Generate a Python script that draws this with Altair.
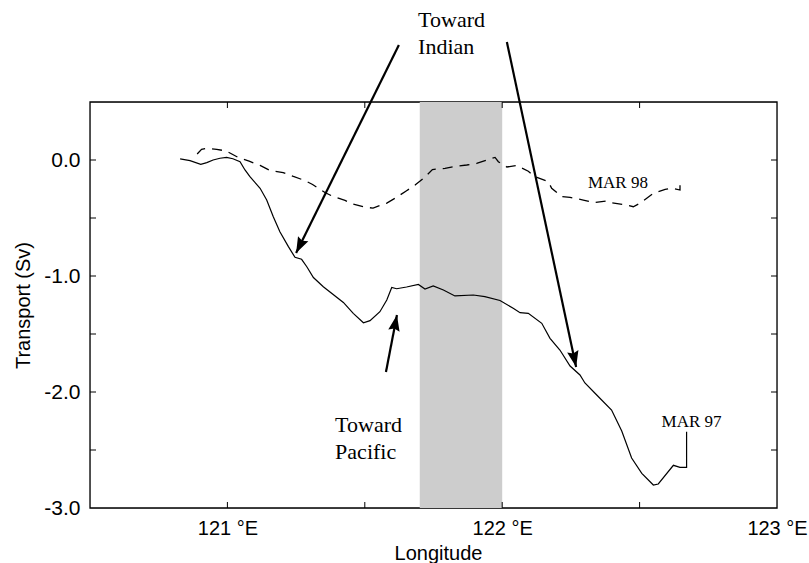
import altair as alt
import numpy as np
import pandas as pd

# Section transport, MAR 97 (solid line)
lon_97 = [120.828, 120.864, 120.903, 120.925, 120.948, 120.973, 120.997, 121.020,
          121.046, 121.064, 121.082, 121.119, 121.143, 121.167, 121.191, 121.222,
          121.246, 121.270, 121.289, 121.313, 121.349, 121.422, 121.458, 121.495,
          121.519, 121.555, 121.580, 121.598, 121.616, 121.652, 121.695, 121.719,
          121.749, 121.786, 121.828, 121.895, 121.937, 121.992, 122.040, 122.065,
          122.095, 122.144, 122.174, 122.210, 122.247, 122.283, 122.301, 122.344,
          122.398, 122.435, 122.471, 122.508, 122.550, 122.568, 122.623, 122.647,
          122.671, 122.671]
sv_97 = [0.009, -0.006, -0.037, -0.023, 0.000, 0.015, 0.023, 0.011,
         -0.015, -0.086, -0.144, -0.244, -0.345, -0.489, -0.618, -0.747,
         -0.839, -0.856, -0.920, -1.013, -1.092, -1.228, -1.322, -1.403,
         -1.385, -1.308, -1.207, -1.099, -1.110, -1.095, -1.073, -1.112,
         -1.086, -1.121, -1.172, -1.164, -1.178, -1.211, -1.278, -1.316,
         -1.322, -1.408, -1.537, -1.638, -1.776, -1.853, -1.922, -2.026,
         -2.155, -2.336, -2.569, -2.701, -2.802, -2.793, -2.632, -2.649,
         -2.649, -2.342]

# Section transport, MAR 98 (dashed line)
lon_98 = [120.890, 120.906, 120.925, 120.961, 120.995, 121.042, 121.079, 121.119,
          121.155, 121.203, 121.240, 121.282, 121.310, 121.355, 121.385, 121.428,
          121.455, 121.504, 121.530, 121.580, 121.610, 121.652, 121.683, 121.719,
          121.746, 121.792, 121.828, 121.871, 121.907, 121.944, 121.974, 121.986,
          122.017, 122.053, 122.095, 122.119, 122.168, 122.180, 122.217, 122.247,
          122.295, 122.332, 122.380, 122.398, 122.453, 122.477, 122.501, 122.526,
          122.550, 122.593, 122.618, 122.647, 122.647]
sv_98 = [0.052, 0.092, 0.101, 0.092, 0.078, 0.019, -0.010, -0.047,
         -0.090, -0.108, -0.142, -0.177, -0.211, -0.280, -0.315, -0.348,
         -0.379, -0.409, -0.414, -0.371, -0.330, -0.265, -0.216, -0.147,
         -0.082, -0.072, -0.056, -0.043, -0.030, 0.000, 0.022, -0.015,
         -0.060, -0.047, -0.097, -0.144, -0.187, -0.244, -0.316, -0.322,
         -0.345, -0.368, -0.353, -0.368, -0.388, -0.403, -0.373, -0.330,
         -0.287, -0.253, -0.244, -0.259, -0.190]

# Shaded longitude band
band_lon = [121.7, 122.0]

# Axis ticks and labels
x_ticks = [121.0, 121.5, 122.0, 122.5]
y_ticks = [-2.5, -2.0, -1.5, -1.0, -0.5, 0.0]
x_labels = [121, 122, 123]
y_labels = [-3.0, -2.0, -1.0, 0.0]

# Annotation arrows (tail -> tip)
arrow_tail_lon = [121.624, 122.017, 121.577]
arrow_tail_sv = [0.991, 1.017, -1.828]
arrow_tip_lon = [121.250, 122.269, 121.617]
arrow_tip_sv = [-0.802, -1.784, -1.336]

# Annotation texts
note_text = ["Toward\nIndian", "Toward\nPacific"]
note_lon = [121.694, 121.392]
note_sv = [1.149, -2.345]

series_text = ["MAR 98", "MAR 97"]
series_lon = [122.312, 122.580]
series_sv = [-0.241, -2.302]

W, H = 687, 406
X_DOM = [120.5, 123.0]
Y_DOM = [-3.0, 0.5]
kx = W / (X_DOM[1] - X_DOM[0])
ky = H / (Y_DOM[1] - Y_DOM[0])

SANS = "Liberation Sans"
SERIF = "Liberation Serif"

xscale = alt.Scale(domain=X_DOM, nice=False, zero=False)
yscale = alt.Scale(domain=Y_DOM, nice=False, zero=False)

xaxis = alt.Axis(values=x_labels, labelExpr="format(datum.value, 'd') + ' °E'",
                 ticks=False, domain=False, grid=False, labelFont=SANS, labelFontSize=20,
                 labelColor="black", labelPadding=10, labelFlush=False,
                 title="Longitude", titleFont=SANS, titleFontSize=20, titleFontWeight="normal",
                 titleColor="black", titleBaseline="alphabetic", titleAlign="center",
                 titleX=348, titleY=51)
yaxis = alt.Axis(values=y_labels,
                 labelExpr="(datum.value < 0 ? '-' : '') + format(abs(datum.value), '.1f')",
                 ticks=False, domain=False, grid=False, labelFont=SANS, labelFontSize=21,
                 labelColor="black", labelPadding=10,
                 title="Transport (Sv)", titleFont=SANS, titleFontSize=20,
                 titleFontWeight="normal", titleColor="black", titlePadding=10)

X = alt.X("lon:Q", scale=xscale, axis=xaxis)
Y = alt.Y("sv:Q", scale=yscale, axis=yaxis)

df97 = pd.DataFrame({"lon": lon_97, "sv": sv_97, "i": range(len(lon_97))})
df98 = pd.DataFrame({"lon": lon_98, "sv": sv_98, "i": range(len(lon_98))})

# Plot frame, drawn beneath the shaded band
frame = alt.Chart(pd.DataFrame({"k": [0]})).mark_rect(
    fillOpacity=0, stroke="black", strokeWidth=1.3).encode(
    x=alt.value(0), x2=alt.value(W), y=alt.value(0), y2=alt.value(H))

band = alt.Chart(pd.DataFrame({"lon": [band_lon[0]], "lon2": [band_lon[1]]})).mark_rect(
    color="#cdcdcd").encode(x=X, x2="lon2:Q", y=alt.value(0), y2=alt.value(H))

line98 = alt.Chart(df98).mark_line(color="black", strokeWidth=1.3, strokeDash=[10, 7]).encode(
    x=X, y=Y, order="i:Q")
line97 = alt.Chart(df97).mark_line(color="black", strokeWidth=1.2).encode(
    x=X, y=Y, order="i:Q")

# Inward-facing frame ticks
xt = pd.DataFrame({"lon": x_ticks})
yt = pd.DataFrame({"sv": y_ticks})
tick_style = dict(color="black", strokeWidth=1)
ticks = [
    alt.Chart(xt).mark_rule(**tick_style).encode(x=X, y=alt.value(0), y2=alt.value(6)),
    alt.Chart(xt).mark_rule(**tick_style).encode(x=X, y=alt.value(H - 6), y2=alt.value(H)),
    alt.Chart(yt).mark_rule(**tick_style).encode(y=Y, x=alt.value(0), x2=alt.value(6)),
    alt.Chart(yt).mark_rule(**tick_style).encode(y=Y, x=alt.value(W - 6), x2=alt.value(W)),
]

# Arrows
arr = pd.DataFrame({"lon": arrow_tail_lon, "sv": arrow_tail_sv,
                    "lon2": arrow_tip_lon, "sv2": arrow_tip_sv})
dx = (arr["lon2"] - arr["lon"]) * kx
dy = -(arr["sv2"] - arr["sv"]) * ky
arr["angle"] = (np.degrees(np.arctan2(dx, -dy)) + 360) % 360
arrow_lines = alt.Chart(arr).mark_rule(color="black", strokeWidth=2.2).encode(
    x=X, y=Y, x2="lon2:Q", y2="sv2:Q")
head_df = pd.DataFrame({"lon": arr["lon2"], "sv": arr["sv2"], "angle": arr["angle"]})
heads = alt.Chart(head_df).mark_point(
    shape="M0,0L0.36,1L0,0.86L-0.36,1Z", filled=True, color="black", opacity=1,
    size=1024, strokeWidth=0).encode(
    x=X, y=Y, angle=alt.Angle("angle:Q", scale=None))

notes = alt.Chart(pd.DataFrame({"t": note_text, "lon": note_lon, "sv": note_sv})).mark_text(
    font=SERIF, fontSize=22, align="left", baseline="alphabetic", lineBreak="\n",
    lineHeight=27, color="black").encode(x=X, y=Y, text="t:N")

labels = alt.Chart(pd.DataFrame({"t": series_text, "lon": series_lon, "sv": series_sv})).mark_text(
    font=SERIF, fontSize=17, align="left", baseline="alphabetic", color="black").encode(
    x=X, y=Y, text="t:N")

chart = alt.layer(frame, band, line98, line97, *ticks, arrow_lines, heads, notes, labels).properties(
    width=W, height=H, autosize="none",
    padding={"left": 90, "top": 102, "right": 32, "bottom": 55},
).configure_view(strokeWidth=0).configure(background="white")

chart.save("out.html", embed_options={"renderer": "svg", "actions": False})
